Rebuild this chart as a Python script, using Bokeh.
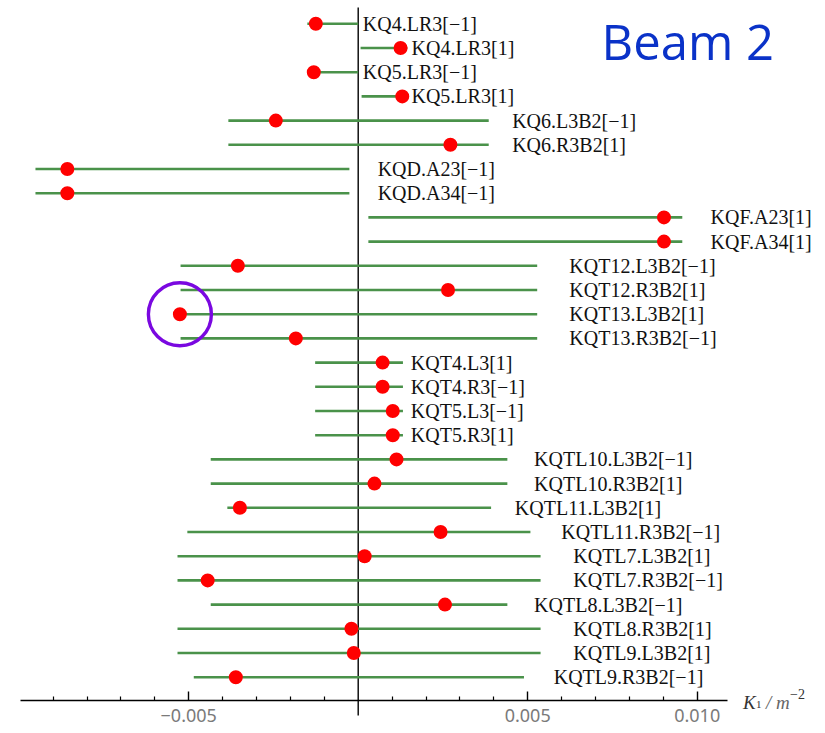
from bokeh.plotting import figure
from bokeh.models import (ColumnDataSource, Range1d, LinearAxis, FixedTicker,
                          NumeralTickFormatter, Label)
from bokeh.core.properties import value
from bokeh.embed import file_html
from bokeh.resources import INLINE

# ---------------- data ----------------
names = [
    "KQ4.LR3[\u22121]", "KQ4.LR3[1]", "KQ5.LR3[\u22121]", "KQ5.LR3[1]",
    "KQ6.L3B2[\u22121]", "KQ6.R3B2[1]", "KQD.A23[\u22121]", "KQD.A34[\u22121]",
    "KQF.A23[1]", "KQF.A34[1]", "KQT12.L3B2[\u22121]", "KQT12.R3B2[1]",
    "KQT13.L3B2[1]", "KQT13.R3B2[\u22121]", "KQT4.L3[1]", "KQT4.R3[\u22121]",
    "KQT5.L3[\u22121]", "KQT5.R3[1]", "KQTL10.L3B2[\u22121]", "KQTL10.R3B2[1]",
    "KQTL11.L3B2[1]", "KQTL11.R3B2[\u22121]", "KQTL7.L3B2[1]", "KQTL7.R3B2[\u22121]",
    "KQTL8.L3B2[\u22121]", "KQTL8.R3B2[1]", "KQTL9.L3B2[1]", "KQTL9.R3B2[\u22121]",
]
range_low = [
    -0.0015, 0.00007, -0.0015, 0.0001,
    -0.00383, -0.00383, -0.00952, -0.00952,
    0.0003, 0.0003, -0.00524, -0.00524,
    -0.00524, -0.00524, -0.00127, -0.00127,
    -0.00127, -0.00127, -0.00435, -0.00435,
    -0.00386, -0.00504, -0.00533, -0.00533,
    -0.00435, -0.00533, -0.00533, -0.00485,
]
range_high = [
    0.0, 0.00145, 0.0, 0.00145,
    0.00385, 0.00385, -0.00026, -0.00026,
    0.00956, 0.00956, 0.00528, 0.00528,
    0.00528, 0.00528, 0.00132, 0.00132,
    0.00132, 0.00132, 0.0044, 0.0044,
    0.00392, 0.00508, 0.00538, 0.00538,
    0.0044, 0.00538, 0.00538, 0.00489,
]
k1_values = [
    -0.00125, 0.00125, -0.00131, 0.0013,
    -0.00243, 0.00272, -0.00858, -0.00858,
    0.00902, 0.00902, -0.00355, 0.00265,
    -0.00526, -0.00184, 0.00072, 0.00072,
    0.00102, 0.00102, 0.00113, 0.00048,
    -0.00349, 0.00243, 0.00019, -0.00444,
    0.00256, -0.0002, -0.00013, -0.00361,
]
highlighted = ["KQT13.L3B2[1]"]
major_ticks = [-0.005, 0.005, 0.010]
major_tick_labels = ["\u22120.005", "0.005", "0.010"]
minor_ticks = [-0.009, -0.008, -0.007, -0.006, -0.004, -0.003, -0.002, -0.001,
               0.001, 0.002, 0.003, 0.004, 0.006, 0.007, 0.008, 0.009]

# ---------------- layout ----------------
W, H = 825, 733
rows = list(range(1, len(names) + 1))
label_x = [h + 0.09 * (h - l) for l, h in zip(range_low, range_high)]

src = ColumnDataSource(dict(name=names, row=rows, lo=range_low, hi=range_high,
                            val=k1_values, lx=label_x))

x_px = 33900.0            # pixels per unit of K1
x0_canvas = 357.7         # canvas x of K1 = 0
row_px = 24.2
row1_canvas = 23.3
y_top = 1 - row1_canvas / row_px
y_bot = 1 + (H - row1_canvas) / row_px
axis_row = 28.96

p = figure(width=W, height=H, output_backend="svg", toolbar_location=None,
           x_range=Range1d(-x0_canvas / x_px, (W - x0_canvas) / x_px),
           y_range=Range1d(y_bot, y_top),
           x_axis_location=None, y_axis_location=None, min_border=0)
p.outline_line_color = None
p.xgrid.visible = False
p.ygrid.visible = False
p.background_fill_color = "white"
p.border_fill_color = "white"

# vertical axis line at K1 = 0
p.segment(x0=[0], y0=[0.33], x1=[0], y1=[29.58], line_color="black", line_width=1.4)

# x axis
xaxis = LinearAxis(fixed_location=axis_row, bounds=(-0.00995, 0.01088),
                   ticker=FixedTicker(ticks=major_ticks, minor_ticks=minor_ticks),
                   formatter=NumeralTickFormatter(format="0.000"))
xaxis.major_label_overrides = {t: s for t, s in zip(major_ticks, major_tick_labels)}
xaxis.axis_line_color = "black"
xaxis.axis_line_width = 1.4
xaxis.major_tick_in = 9
xaxis.major_tick_out = 0
xaxis.minor_tick_in = 4
xaxis.minor_tick_out = 0
xaxis.major_tick_line_width = 1.4
xaxis.minor_tick_line_width = 1.2
xaxis.major_label_standoff = 9
xaxis.major_label_text_font = "Noto Sans"
xaxis.major_label_text_font_size = "18px"
xaxis.major_label_text_color = "#7a7a7a"
p.add_layout(xaxis, "below")

# ranges
p.segment(x0="lo", y0="row", x1="hi", y1="row", source=src,
          line_color="#4a924a", line_width=2.6)
# values
p.scatter(x="val", y="row", source=src, size=14, marker="circle",
          fill_color="#ff0000", line_color=None)
# labels
p.text(x="lx", y="row", text="name", source=src, text_align="left",
       text_baseline="middle", text_font=value("Liberation Serif"),
       text_font_size="20px", text_color="#111111")

# highlight circle
hi_rows = [r for r, n in zip(rows, names) if n in highlighted]
hi_vals = [v for v, n in zip(k1_values, names) if n in highlighted]
p.scatter(x=hi_vals, y=hi_rows, size=63, marker="circle", fill_color=None,
          line_color="#7a08e0", line_width=3.4)

# axis label K1 / m^-2
ax_end = 0.01088
p.add_layout(Label(x=ax_end, y=axis_row, x_offset=16, y_offset=-2, text="K",
                   text_font="Liberation Serif", text_font_style="italic",
                   text_font_size="19px", text_color="#333333",
                   text_baseline="alphabetic"))
p.add_layout(Label(x=ax_end, y=axis_row, x_offset=29, y_offset=-4, text="1",
                   text_font="Liberation Serif", text_font_size="11px",
                   text_color="#333333", text_baseline="alphabetic"))
p.add_layout(Label(x=ax_end, y=axis_row, x_offset=39, y_offset=-2, text="/ m",
                   text_font="Liberation Serif", text_font_style="italic",
                   text_font_size="19px", text_color="#666666",
                   text_baseline="alphabetic"))
p.add_layout(Label(x=ax_end, y=axis_row, x_offset=63, y_offset=6, text="\u22122",
                   text_font="Liberation Serif", text_font_size="14px",
                   text_color="#333333", text_baseline="alphabetic"))

# title-like annotation
p.add_layout(Label(x=(601 - x0_canvas) / x_px, y=1 + (40 - row1_canvas) / row_px,
                   text="Beam 2", text_font="Open Sans", text_font_size="49px",
                   text_color="#0a32c8", text_baseline="alphabetic"))

open("out.html", "w").write(file_html(p, INLINE))
